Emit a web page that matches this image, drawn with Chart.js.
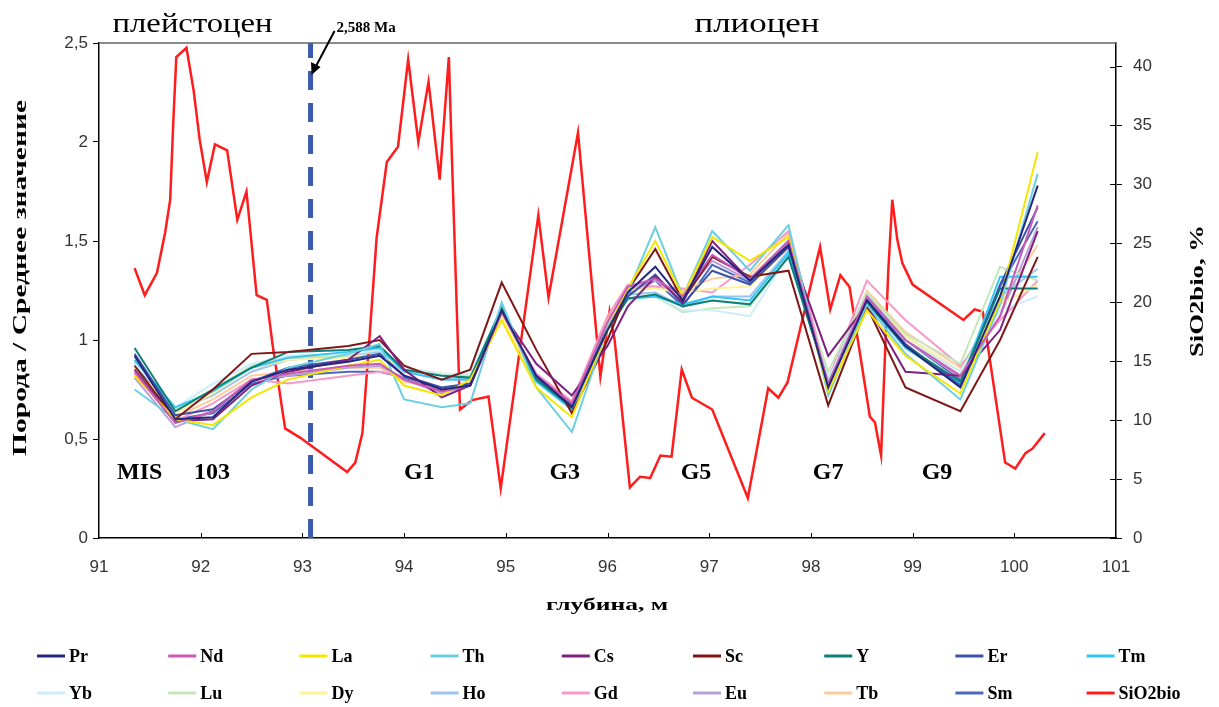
<!DOCTYPE html>
<html>
<head>
<meta charset="utf-8">
<script src="https://cdn.jsdelivr.net/npm/chart.js@4"></script>
<style>
  body { margin: 0; background: #fff; }
  #wrap { width: 1219px; height: 707px; position: relative; }
</style>
</head>
<body>
<div id="wrap"><canvas id="chart"></canvas></div>
<script>
// depth of the REE samples, m
const depth = [91.35, 91.75, 92.12, 92.5, 92.86, 93.45, 93.76, 94.0, 94.37, 94.65, 94.96, 95.3, 95.65,
               96.0, 96.2, 96.47, 96.74, 97.03, 97.4, 97.78, 98.17, 98.55, 98.93, 99.47, 99.86, 100.23];

// rock / mean value
const pr = [0.92,0.60,0.61,0.79,0.85,0.89,0.92,0.82,0.75,0.77,1.15,0.82,0.66,1.05,1.24,1.37,1.20,1.47,1.30,1.48,0.76,1.20,0.97,0.76,1.22,1.78];
const nd = [0.84,0.58,0.64,0.80,0.83,0.87,0.88,0.80,0.74,0.77,1.14,0.82,0.68,1.09,1.27,1.31,1.22,1.43,1.31,1.50,0.78,1.22,1.00,0.82,1.12,1.68];
const la = [0.82,0.60,0.57,0.71,0.80,0.87,0.90,0.77,0.72,0.80,1.10,0.76,0.61,1.05,1.26,1.50,1.22,1.52,1.40,1.52,0.74,1.15,0.92,0.73,1.20,1.95];
const th = [0.75,0.60,0.55,0.75,0.86,0.93,0.98,0.70,0.66,0.68,1.19,0.76,0.535,1.06,1.24,1.57,1.22,1.55,1.35,1.58,0.72,1.18,0.93,0.70,1.18,1.84];
const cs = [0.85,0.59,0.60,0.77,0.84,0.90,1.02,0.85,0.71,0.77,1.14,0.88,0.72,0.97,1.17,1.32,1.19,1.50,1.30,1.48,0.92,1.18,0.84,0.82,1.05,1.55];
const sc = [0.87,0.60,0.75,0.93,0.94,0.97,1.00,0.87,0.80,0.85,1.29,0.95,0.63,1.00,1.25,1.46,1.20,1.42,1.32,1.35,0.67,1.17,0.76,0.64,1.00,1.42];
const yy = [0.96,0.64,0.75,0.86,0.94,0.95,0.97,0.85,0.82,0.81,1.16,0.80,0.66,1.05,1.21,1.23,1.17,1.20,1.18,1.42,0.78,1.19,0.97,0.79,1.26,1.26];
const er = [0.93,0.62,0.65,0.79,0.86,0.90,0.93,0.82,0.76,0.78,1.15,0.81,0.67,1.06,1.22,1.33,1.18,1.35,1.28,1.47,0.77,1.20,0.98,0.77,1.28,1.67];
const tm = [0.90,0.66,0.74,0.86,0.91,0.94,0.96,0.84,0.80,0.80,1.17,0.79,0.65,1.06,1.21,1.22,1.18,1.22,1.20,1.44,0.78,1.19,0.96,0.78,1.32,1.32];
const yb = [0.88,0.66,0.78,0.88,0.92,0.93,0.95,0.86,0.83,0.83,1.16,0.80,0.67,1.06,1.20,1.22,1.15,1.15,1.12,1.43,0.80,1.22,1.00,0.84,1.15,1.22];
const lu = [0.90,0.65,0.75,0.87,0.91,0.92,0.95,0.85,0.83,0.82,1.15,0.80,0.67,1.07,1.21,1.22,1.14,1.16,1.17,1.42,0.84,1.24,1.03,0.88,1.37,1.30];
const dy = [0.86,0.63,0.73,0.86,0.90,0.91,0.92,0.86,0.83,0.82,1.12,0.79,0.65,1.09,1.25,1.26,1.24,1.26,1.27,1.47,0.76,1.24,1.02,0.84,1.18,1.28];
const ho = [0.89,0.64,0.72,0.84,0.90,0.92,0.94,0.84,0.80,0.80,1.16,0.80,0.67,1.08,1.23,1.24,1.17,1.22,1.22,1.45,0.80,1.23,1.02,0.84,1.22,1.36];
const gd = [0.83,0.59,0.68,0.80,0.78,0.82,0.84,0.82,0.74,0.77,1.14,0.83,0.69,1.12,1.28,1.27,1.26,1.24,1.38,1.55,0.80,1.30,1.10,0.87,1.10,1.30];
const eu = [0.81,0.56,0.64,0.80,0.82,0.86,0.87,0.80,0.73,0.77,1.13,0.82,0.68,1.08,1.26,1.30,1.22,1.40,1.30,1.50,0.79,1.22,1.00,0.81,1.12,1.57];
const tb = [0.84,0.61,0.70,0.82,0.84,0.86,0.86,0.79,0.75,0.78,1.13,0.82,0.68,1.10,1.26,1.27,1.25,1.31,1.33,1.54,0.77,1.25,1.04,0.86,1.18,1.48];
const sm = [0.88,0.60,0.63,0.78,0.82,0.84,0.84,0.81,0.75,0.77,1.15,0.80,0.66,1.06,1.23,1.30,1.17,1.38,1.29,1.50,0.78,1.21,1.00,0.80,1.27,1.60];

const reeNames  = ['Pr','Nd','La','Th','Cs','Sc','Y','Er','Tm','Yb','Lu','Dy','Ho','Gd','Eu','Tb','Sm'];
const reeSeries = [pr, nd, la, th, cs, sc, yy, er, tm, yb, lu, dy, ho, gd, eu, tb, sm];
const reeColors = ['#26267e','#c95ab4','#f5e600','#6ccfe0','#7f1f7f','#7f1717','#0b8078','#3a52a8','#33c6f5',
                   '#cdeef8','#c6e6bc','#fff29a','#9cc4ee','#f59ac8','#b8a0da','#ffcc99','#4a68be'];

// biogenic silica, %
const sioDepth = [91.35,91.45,91.57,91.65,91.70,91.73,91.76,91.86,91.93,91.99,92.06,92.14,92.26,92.36,92.45,92.55,92.65,
                  92.71,92.83,92.98,93.44,93.52,93.59,93.66,93.73,93.83,93.94,94.04,94.14,94.24,94.35,94.44,94.47,94.55,
                  94.67,94.83,94.95,95.32,95.42,95.71,95.93,96.02,96.07,96.22,96.32,96.42,96.52,96.63,96.73,96.83,97.03,
                  97.38,97.58,97.68,97.77,97.91,98.09,98.19,98.29,98.38,98.58,98.63,98.69,98.76,98.80,98.85,98.90,99.00,
                  99.50,99.61,99.69,99.91,100.01,100.11,100.18,100.30];
const sioVals  = [22.9,20.6,22.5,25.9,28.7,35.2,40.8,41.6,38.0,33.8,30.2,33.4,32.9,27.0,29.4,20.6,20.2,
                  16.2,9.3,8.5,5.6,6.4,8.9,17.0,25.5,31.9,33.2,40.6,33.6,38.7,30.4,40.8,32.3,10.9,
                  11.7,12.0,4.2,27.4,20.4,34.4,13.7,19.2,16.8,4.3,5.2,5.1,7.0,6.9,14.3,11.9,10.9,
                  3.4,12.7,11.9,13.2,18.3,24.7,19.4,22.3,21.3,10.3,9.8,7.0,22.5,28.7,25.3,23.3,21.5,
                  18.5,19.4,19.2,6.4,5.9,7.2,7.6,8.9];

const boundaryDepth = 93.08;   // 2,588 Ma
const yTickLabels = ['0', '0,5', '1', '1,5', '2', '2,5'];
const stageLabels = ['MIS', '103', 'G1', 'G3', 'G5', 'G7', 'G9'];
const stageDepth  = [91.40, 92.11, 94.15, 95.58, 96.87, 98.17, 99.24];
const epochLabels = ['плейстоцен', 'плиоцен'];
const epochDepth  = [91.92, 97.47];

const SERIF = '"Liberation Serif", "Times New Roman", serif';
const SANS = '"Liberation Sans", Arial, sans-serif';

const datasets = reeSeries.map((vals, i) => ({
  label: reeNames[i],
  data: vals.map((v, j) => ({ x: depth[j], y: v })),
  borderColor: reeColors[i],
  borderWidth: 2,
  yAxisID: 'y',
}));

datasets.push({
  label: 'boundary',
  data: [{ x: boundaryDepth, y: 0 }, { x: boundaryDepth, y: 2.5 }],
  borderColor: '#3b5aae',
  borderWidth: 5,
  borderDash: [19, 13],
  yAxisID: 'y',
});

datasets.push({
  label: 'SiO2bio',
  data: sioVals.map((v, j) => ({ x: sioDepth[j], y: v })),
  borderColor: '#ff1c1c',
  borderWidth: 2.5,
  yAxisID: 'y2',
});

// text, frame details and legend
const overlay = {
  id: 'overlay',
  afterDraw(chart) {
    const { ctx, chartArea: a, scales: { x, y, y2 } } = chart;
    ctx.save();

    // top frame line
    ctx.strokeStyle = '#666';
    ctx.lineWidth = 1.5;
    ctx.beginPath();
    ctx.moveTo(a.left, a.top);
    ctx.lineTo(a.right, a.top);
    ctx.stroke();

    // inner ticks
    ctx.strokeStyle = '#000';
    ctx.lineWidth = 1;
    ctx.beginPath();
    for (let v = 0; v <= 40; v += 5) {
      const py = Math.round(y2.getPixelForValue(v)) + 0.5;
      ctx.moveTo(a.right - 6, py);
      ctx.lineTo(a.right, py);
    }
    for (let v = 92; v <= 100; v++) {
      const px = Math.round(x.getPixelForValue(v)) + 0.5;
      ctx.moveTo(px, a.bottom);
      ctx.lineTo(px, a.bottom - 5);
    }
    ctx.stroke();

    const stretched = (text, cx, cy, rot, width) => {
      ctx.save();
      ctx.translate(cx, cy);
      ctx.rotate(rot);
      const w = ctx.measureText(text).width;
      ctx.scale(width / w, 1);
      ctx.textAlign = 'center';
      ctx.fillText(text, 0, 0);
      ctx.restore();
    };

    // stage labels
    ctx.fillStyle = '#000';
    ctx.textAlign = 'center';
    ctx.textBaseline = 'middle';
    ctx.font = 'bold 24px ' + SERIF;
    stageLabels.forEach((t, i) => {
      ctx.fillText(t, x.getPixelForValue(stageDepth[i]), y.getPixelForValue(0.33));
    });

    // epochs
    ctx.font = '28px ' + SERIF;
    const epochW = [160, 125];
    epochLabels.forEach((t, i) => {
      stretched(t, x.getPixelForValue(epochDepth[i]), a.top - 18, 0, epochW[i]);
    });

    // 2,588 Ma + arrow
    const bx = x.getPixelForValue(boundaryDepth);
    ctx.font = 'bold 15px ' + SERIF;
    ctx.textAlign = 'left';
    ctx.fillText('2,588 Ma', bx + 26, a.top - 15);
    ctx.lineWidth = 2;
    ctx.beginPath();
    ctx.moveTo(bx + 24, a.top - 12);
    ctx.lineTo(bx + 5, a.top + 24);
    ctx.stroke();
    ctx.beginPath();
    ctx.moveTo(bx + 1, a.top + 32);
    ctx.lineTo(bx + 0.5, a.top + 19);
    ctx.lineTo(bx + 10, a.top + 24);
    ctx.closePath();
    ctx.fill();

    // axis titles
    ctx.font = 'bold 19px ' + SERIF;
    stretched('Порода / Среднее значение', 21, 278, -Math.PI / 2, 356);
    ctx.font = 'bold 18px ' + SERIF;
    stretched('SiO2bio, %', 1198, 291, -Math.PI / 2, 132);
    ctx.font = 'bold 17px ' + SERIF;
    stretched('глубина, м', 607, 606, 0, 122);

    // legend, 9 columns x 2 rows
    const names = reeNames.concat(['SiO2bio']);
    const colors = reeColors.concat(['#ff1c1c']);
    ctx.font = 'bold 18px ' + SERIF;
    ctx.textAlign = 'left';
    names.forEach((t, i) => {
      const col = i % 9, row = Math.floor(i / 9);
      const lx = 37 + col * 131.2;
      const ly = 656 + row * 37;
      ctx.strokeStyle = colors[i];
      ctx.lineWidth = 3;
      ctx.beginPath();
      ctx.moveTo(lx, ly);
      ctx.lineTo(lx + 28, ly);
      ctx.stroke();
      ctx.fillStyle = '#000';
      ctx.fillText(t, lx + 32, ly + 1);
    });

    ctx.restore();
  }
};

new Chart(document.getElementById('chart'), {
  type: 'line',
  data: { datasets },
  options: {
    responsive: true,
    maintainAspectRatio: false,
    animation: false,
    layout: { padding: { top: 43, left: 0, right: 0, bottom: 0 } },
    elements: {
      point: { radius: 0, hoverRadius: 0 },
      line: { tension: 0, fill: false },
    },
    plugins: {
      legend: { display: false },
      tooltip: { enabled: false },
    },
    scales: {
      x: {
        type: 'linear',
        min: 91,
        max: 101,
        afterFit: s => { s.height = 169; },
        grid: { drawOnChartArea: false, drawTicks: false },
        border: { color: '#000', width: 1.5 },
        ticks: { stepSize: 1, padding: 19, color: '#333', font: { family: SANS, size: 17 } },
      },
      y: {
        position: 'left',
        min: 0,
        max: 2.5,
        afterFit: s => { s.width = 99; },
        grid: { drawOnChartArea: false, drawTicks: true, tickLength: 6, color: '#000' },
        border: { color: '#000', width: 1.5 },
        ticks: {
          stepSize: 0.5,
          padding: 5,
          color: '#333',
          font: { family: SANS, size: 17 },
          callback: (v, i) => yTickLabels[i],
        },
      },
      y2: {
        position: 'right',
        min: 0,
        max: 42,
        afterFit: s => { s.width = 103; },
        afterBuildTicks: s => { s.ticks = s.ticks.filter(t => t.value % 5 === 0); },
        grid: { drawOnChartArea: false, drawTicks: true, tickLength: 6, color: '#000' },
        border: { color: '#000', width: 1.5 },
        ticks: {
          stepSize: 5,
          padding: 11,
          color: '#333',
          font: { family: SANS, size: 17 },
        },
      },
    },
  },
  plugins: [overlay],
});
</script>
</body>
</html>
